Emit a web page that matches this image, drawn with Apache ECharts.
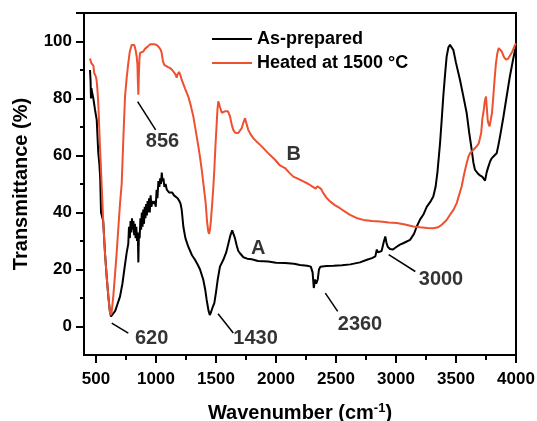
<!DOCTYPE html>
<html>
<head>
<meta charset="utf-8">
<script src="https://cdn.jsdelivr.net/npm/echarts@6/dist/echarts.min.js"></script>
<style>
html,body{margin:0;padding:0;background:#fff;}
#chart{width:537px;height:421px;}
</style>
</head>
<body>
<div id="chart"></div>
<script>
// ---- Data ----
const asPreparedX = [450,455,458,462,468,478,492,506,519,528,535,542,560,575,590,603,615,625,640,660,680,700,720,736,756,769,775,782,788,795,800,806,812,818,824,830,836,842,848,853,858,864,870,876,882,888,894,900,906,912,918,924,930,936,942,948,955,962,970,980,990,998,1005,1012,1020,1028,1035,1042,1048,1055,1062,1070,1080,1090,1100,1110,1120,1135,1150,1165,1180,1195,1205,1214,1228,1245,1269,1300,1325,1350,1367,1394,1410,1422,1438,1448,1458,1470,1486,1500,1514,1533,1561,1585,1603,1620,1635,1645,1658,1672,1686,1700,1728,1760,1797,1850,1936,2000,2075,2150,2200,2260,2290,2305,2315,2325,2335,2348,2358,2370,2420,2480,2550,2619,2700,2758,2800,2828,2840,2850,2864,2880,2900,2911,2920,2931,2950,2975,3000,3033,3064,3117,3150,3172,3200,3231,3256,3290,3311,3330,3345,3367,3380,3394,3408,3422,3437,3450,3465,3478,3500,3533,3560,3589,3610,3631,3645,3658,3680,3700,3720,3742,3755,3769,3785,3797,3820,3839,3855,3867,3895,3922,3950,3975,3992,4000];
const asPreparedY = [90,86,80,83.6,82,80,76,72.5,61,57,52,40,37,25.7,17,10.5,5.5,3.5,4,5.5,8,10.5,15,20,26,29,35,31,37,33,38,34,37,32,36,31,35,30,33,22.5,33,31,38,34,40,35,41,36,42,38,43,39,44,40,45,40,46,42,44,43,44,42,48,45,51,49,52,50,54,51,52,49,50,48,48.5,47,47.5,47,46,46,45,44,43,41,35,31,28,25,23.4,21.5,20,16.4,13,9.4,5.5,4,5,6.5,8.2,12,16.4,21,23.4,26,29,32,33.7,33,31,28.5,26.5,25.7,24.3,23.8,23.6,23,22.8,22.4,22.3,22,21.6,21.3,21,19,13.5,16.5,15,16.5,20,21,21.2,21.3,21.5,21.8,22.5,23.4,24,24.6,27,26,25.5,26.5,30,31.6,29.5,28,27.2,27,27.8,28.7,29.3,30.4,32.5,35,37.5,39.5,42,44,45.6,49,54,64.3,72,80.7,88,94.7,98,98.8,98.2,97,92.5,86.6,81,74.9,68,62,57.5,55,53.8,53,52.5,51.2,54,56,58,59,60,60.8,64,66.7,73.5,80.7,88,93.5,97,98];

const heatedX = [450,460,470,478,485,492,500,506,512,519,526,533,540,547,560,575,590,603,615,622,630,644,658,672,690,700,714,728,742,755,769,782,797,808,819,830,839,845,849,853,857,862,867,880,894,910,930,950,964,985,1006,1025,1040,1047,1058,1069,1085,1100,1117,1135,1150,1158,1165,1172,1180,1192,1205,1214,1242,1269,1290,1311,1330,1353,1370,1381,1394,1405,1414,1425,1435,1442,1450,1458,1468,1478,1486,1495,1506,1512,1519,1527,1533,1539,1548,1561,1575,1589,1600,1617,1630,1644,1660,1686,1700,1714,1728,1742,1755,1769,1790,1811,1840,1881,1930,1992,2033,2075,2110,2144,2190,2228,2270,2311,2330,2345,2361,2375,2394,2420,2450,2490,2533,2575,2617,2670,2728,2800,2867,2940,3006,3075,3144,3200,3260,3311,3350,3381,3420,3450,3480,3506,3525,3547,3568,3589,3603,3617,3645,3672,3690,3700,3710,3720,3728,3740,3750,3758,3764,3769,3780,3789,3800,3811,3822,3833,3845,3856,3868,3881,3900,3917,3935,3950,3970,3992,4000];
const heatedY = [94,92.5,92,91.5,89,88.5,87.5,86,83,78.4,71,63,57,50,37,25.7,17,10.5,5.5,4,5,10.5,18,25.7,37,43,50,66,80.7,87,92.4,96.5,98.8,99.3,98.8,97,94.7,92,86,81.3,88,94,96,95.5,96.5,97.5,98.2,99,99.4,99,98.8,98,97,96,93,91.8,91.2,91,90.7,90,89.2,88.9,88.2,87.3,88.5,89.3,88,86.6,83.5,80.7,77.5,73.7,69,63.2,58.5,55,50.5,46.5,43.3,37,33.5,32.5,34,37.4,43,49,55,63,71.4,76,79,78,77,76.6,75,74.9,75.5,76,75.5,73.7,71,69,68,67.9,68.5,69.6,71.5,73.1,71,69,67.3,66.1,64.8,63.2,61,58.5,56.5,55.6,54,52.6,51.7,50.9,50,48.9,48.4,49.2,49.7,48.3,46.8,45.2,43.9,42.6,41.5,40.3,39.2,38.1,37.4,37,36.8,36.5,36.3,35.8,35.1,34.8,34.6,34.5,34.8,35.7,37.3,39.2,41,43.3,46,49.1,53.5,57.3,59.5,60.8,62,63.2,64.3,64.9,68,73,74.9,79,80.7,76,72.5,71.4,70.2,69.6,75,80.7,87,92.4,96,97.7,97.3,96.5,94.5,93.6,94,94.7,96.5,98.8,99.3];

// Axis ranges and tick labels
const xRange = [400, 4000];
const yRange = [-10, 110];
const xTickStart = 500, xTickStep = 500;   // labels 500 ... 4000
const yTickStart = 0, yTickStep = 20;      // labels 0 ... 100

// Annotations (text and leader lines, in data units)
const annotationText = ['856','620','1430','2360','3000','A','B'];
const annotationX    = [1054,964,1830,2700,3375,1852,2147];
const annotationY    = [65,-4.1,-4.3,0.6,16.4,27.5,60.2];
const leaderStart = [[847,78.9],[631,1.2],[1517,4.5],[2411,11.7],[2939,25.2]];
const leaderEnd   = [[997,69],[769,-2.3],[1644,-2.3],[2514,5.3],[3161,19.3]];

const FONT = "'Liberation Sans', Arial, Helvetica, sans-serif";
const RED = '#EE5030';

const zip = (xs, ys) => xs.map((x, i) => [x, ys[i]]);

// plot rectangle (pixels)
const G = {left: 84, top: 13, right: 21, bottom: 66};
const W = 537 - G.left - G.right, H = 421 - G.top - G.bottom;
// sub-grids whose extents start exactly on a labelled tick, so ticks fall on multiples
const gridX = {left: G.left + W * (xTickStart - xRange[0]) / (xRange[1] - xRange[0]), top: G.top, right: G.right, bottom: G.bottom};
const gridY = {left: G.left, top: G.top, right: G.right, bottom: G.bottom + H * (yTickStart - yRange[0]) / (yRange[1] - yRange[0])};

const tickStyle = {color: '#000', width: 2};
const labelStyle = {fontSize: 17, fontWeight: 'bold', color: '#000', fontFamily: FONT};
const noBounds = {containLabel: false, outerBoundsMode: 'none'};

const chart = echarts.init(document.getElementById('chart'), null, {renderer: 'canvas'});

chart.setOption({
  animation: false,
  backgroundColor: '#fff',
  textStyle: {fontFamily: FONT},
  grid: [
    Object.assign({show: true, borderColor: '#000', borderWidth: 2, backgroundColor: 'transparent'}, noBounds, G),
    Object.assign({show: false}, noBounds, gridX),
    Object.assign({show: false}, noBounds, gridY)
  ],
  legend: {
    orient: 'vertical',
    left: 207, top: 25,
    icon: 'rect',
    itemWidth: 40, itemHeight: 2, itemGap: 6,
    data: ['As-prepared', 'Heated at 1500 °C'],
    textStyle: {fontFamily: FONT, fontWeight: 'bold', fontSize: 18, color: '#000'}
  },
  xAxis: [
    {
      gridIndex: 0, type: 'value', min: xRange[0], max: xRange[1],
      splitLine: {show: false},
      axisLine: {show: true, onZero: false, lineStyle: {color: '#000', width: 2}},
      axisTick: {show: false}, axisLabel: {show: false},
      name: 'Wavenumber (cm{sup|-1})',
      nameLocation: 'middle', nameGap: 47,
      nameTextStyle: {
        fontFamily: FONT, fontSize: 20, fontWeight: 'bold', color: '#000',
        rich: {sup: {fontFamily: FONT, fontSize: 13, fontWeight: 'bold', color: '#000', padding: [0, 0, 10, 0]}}
      }
    },
    {
      gridIndex: 1, type: 'value', min: xTickStart, max: xRange[1], interval: xTickStep,
      splitLine: {show: false},
      axisLine: {show: false, onZero: false},
      axisTick: {show: true, inside: false, length: 8, lineStyle: tickStyle},
      minorTick: {show: true, splitNumber: 2, length: 5, lineStyle: tickStyle},
      axisLabel: Object.assign({show: true, margin: 16, formatter: v => String(v)}, labelStyle)
    },
    {gridIndex: 2, type: 'value', show: false, min: 0, max: 1}
  ],
  yAxis: [
    {
      gridIndex: 0, type: 'value', min: yRange[0], max: yRange[1],
      splitLine: {show: false},
      axisLine: {show: true, onZero: false, lineStyle: {color: '#000', width: 2}},
      axisTick: {show: false}, axisLabel: {show: false},
      name: 'Transmittance (%)',
      nameLocation: 'middle', nameGap: 53,
      nameTextStyle: {fontFamily: FONT, fontSize: 20, fontWeight: 'bold', color: '#000'}
    },
    {gridIndex: 1, type: 'value', show: false, min: 0, max: 1},
    {
      gridIndex: 2, type: 'value', min: yTickStart, max: yRange[1], interval: yTickStep,
      splitLine: {show: false},
      axisLine: {show: false, onZero: false},
      axisTick: {show: true, inside: false, length: 8, lineStyle: tickStyle},
      minorTick: {show: true, splitNumber: 2, length: 4, lineStyle: tickStyle},
      axisLabel: Object.assign({show: true, margin: 12, showMaxLabel: false,
        formatter: v => (v % yTickStep === 0 ? String(v) : '')}, labelStyle)
    }
  ],
  series: [
    {
      name: 'Heated at 1500 °C',
      type: 'line', xAxisIndex: 0, yAxisIndex: 0,
      data: zip(heatedX, heatedY),
      showSymbol: false, symbol: 'none',
      lineStyle: {color: RED, width: 2},
      itemStyle: {color: RED},
      z: 2
    },
    {
      name: 'As-prepared',
      type: 'line', xAxisIndex: 0, yAxisIndex: 0,
      data: zip(asPreparedX, asPreparedY),
      showSymbol: false, symbol: 'none',
      lineStyle: {color: '#000', width: 2},
      itemStyle: {color: '#000'},
      z: 1
    },
    {
      name: 'leaders',
      type: 'lines', coordinateSystem: 'cartesian2d', xAxisIndex: 0, yAxisIndex: 0,
      silent: true,
      data: leaderStart.map((s, i) => ({coords: [s, leaderEnd[i]]})),
      lineStyle: {color: '#000', width: 1.5, opacity: 1},
      z: 3
    },
    {
      name: 'labels',
      type: 'scatter', xAxisIndex: 0, yAxisIndex: 0,
      silent: true,
      symbolSize: 0,
      data: annotationText.map((t, i) => [annotationX[i], annotationY[i], t]),
      label: {
        show: true, position: 'inside',
        formatter: p => p.value[2],
        fontFamily: FONT, fontSize: 20, fontWeight: 'bold', color: '#000'
      },
      z: 4
    }
  ]
});
</script>
</body>
</html>
